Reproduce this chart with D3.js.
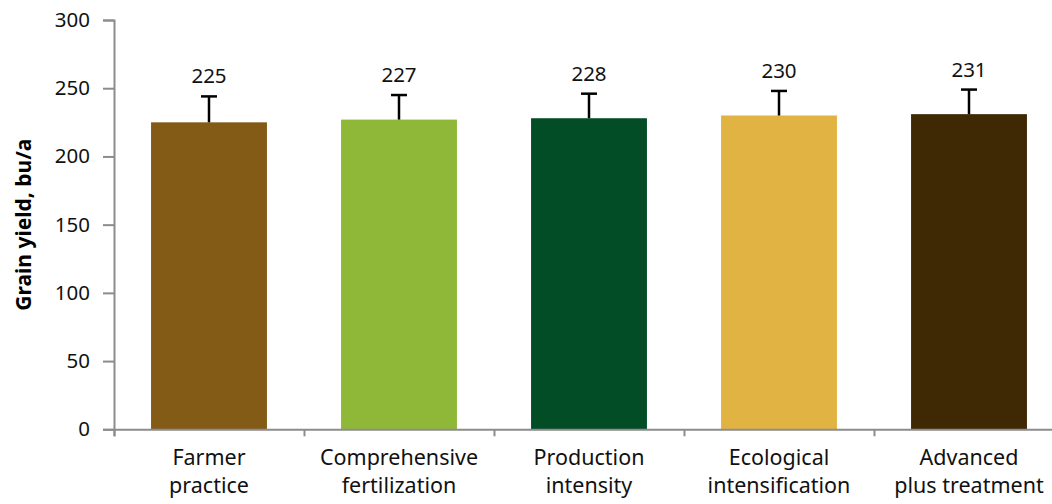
<!DOCTYPE html>
<html>
<head>
<meta charset="utf-8">
<script src="https://cdn.jsdelivr.net/npm/d3@7"></script>
<style>
  body { margin: 0; background: #fff; }
  text { font-family: "Noto Sans", sans-serif; }
</style>
</head>
<body>
<div id="chart"></div>
<script>
const categories = [
  ["Farmer", "practice"],
  ["Comprehensive", "fertilization"],
  ["Production", "intensity"],
  ["Ecological", "intensification"],
  ["Advanced", "plus treatment"],
];
const yields = [225, 227, 228, 230, 231];
const errors = [19, 18, 18, 18, 18];
const colors = ["#845a17", "#8fb838", "#034d26", "#e0b343", "#3f2905"];
const yTicks = [0, 50, 100, 150, 200, 250, 300];

const width = 1052,
  height = 504;
const margin = { top: 20, right: -12, bottom: 75, left: 114 };

const svg = d3
  .select("#chart")
  .append("svg")
  .attr("width", width)
  .attr("height", height);

const names = categories.map((c) => c.join(" "));

const x = d3
  .scaleBand()
  .domain(names)
  .range([margin.left, width - margin.right])
  .paddingInner(0.39)
  .paddingOuter(0.195);

const y = d3
  .scaleLinear()
  .domain([0, 300])
  .range([height - margin.bottom + 0.3, margin.top]);

// y axis
const yAxis = svg
  .append("g")
  .attr("transform", `translate(${margin.left},0)`)
  .call(d3.axisLeft(y).tickValues(yTicks).tickSize(11).tickPadding(13));
yAxis.select(".domain").attr("stroke", "#8c8c8c").attr("stroke-width", 2);
yAxis.selectAll(".tick line").attr("stroke", "#8c8c8c").attr("stroke-width", 2);
yAxis
  .selectAll(".tick text")
  .attr("fill", "#111")
  .style("font-size", "20.5px");

// bars
svg
  .append("g")
  .selectAll("rect")
  .data(yields)
  .join("rect")
  .attr("x", (d, i) => x(names[i]))
  .attr("width", x.bandwidth())
  .attr("y", (d) => y(d))
  .attr("height", (d) => y(0) - y(d))
  .attr("fill", (d, i) => colors[i]);

// x axis (drawn after bars so the line sits on top)
const xBand = d3
  .scalePoint()
  .domain(d3.range(names.length + 1))
  .range([margin.left, width - margin.right]);
const xAxis = svg
  .append("g")
  .attr("transform", `translate(0,${y(0)})`)
  .call(d3.axisBottom(xBand).tickSize(7).tickFormat(""));
xAxis.select(".domain").attr("stroke", "#8c8c8c").attr("stroke-width", 2);
xAxis.selectAll(".tick line").attr("stroke", "#8c8c8c").attr("stroke-width", 2);

// category labels
const labels = svg
  .append("g")
  .selectAll("text")
  .data(categories)
  .join("text")
  .attr("x", (d, i) => x(names[i]) + x.bandwidth() / 2)
  .attr("y", y(0) + 36)
  .attr("text-anchor", "middle")
  .attr("fill", "#111")
  .style("font-size", "21.5px");
labels
  .selectAll("tspan")
  .data((d) => d)
  .join("tspan")
  .attr("x", function () {
    return this.parentNode.getAttribute("x");
  })
  .attr("dy", (d, i) => (i === 0 ? 0 : 28))
  .text((d) => d);

// error bars
const err = svg.append("g").attr("stroke", "#000").attr("stroke-width", 2.5);
yields.forEach((v, i) => {
  const cx = x(names[i]) + x.bandwidth() / 2;
  err
    .append("line")
    .attr("x1", cx)
    .attr("x2", cx)
    .attr("y1", y(v))
    .attr("y2", y(v + errors[i]));
  err
    .append("line")
    .attr("x1", cx - 8)
    .attr("x2", cx + 8)
    .attr("y1", y(v + errors[i]))
    .attr("y2", y(v + errors[i]));
});

// value labels
svg
  .append("g")
  .selectAll("text")
  .data(yields)
  .join("text")
  .attr("x", (d, i) => x(names[i]) + x.bandwidth() / 2)
  .attr("y", (d, i) => y(d + errors[i]) - 13)
  .attr("text-anchor", "middle")
  .attr("fill", "#111")
  .style("font-size", "20.5px")
  .text((d) => d);

// y axis title
svg
  .append("text")
  .attr("transform", `translate(31,${(y(0) + y(300)) / 2}) rotate(-90)`)
  .attr("text-anchor", "middle")
  .attr("fill", "#000")
  .style("font-size", "21px")
  .style("font-weight", "bold")
  .text("Grain yield, bu/a");
</script>
</body>
</html>
